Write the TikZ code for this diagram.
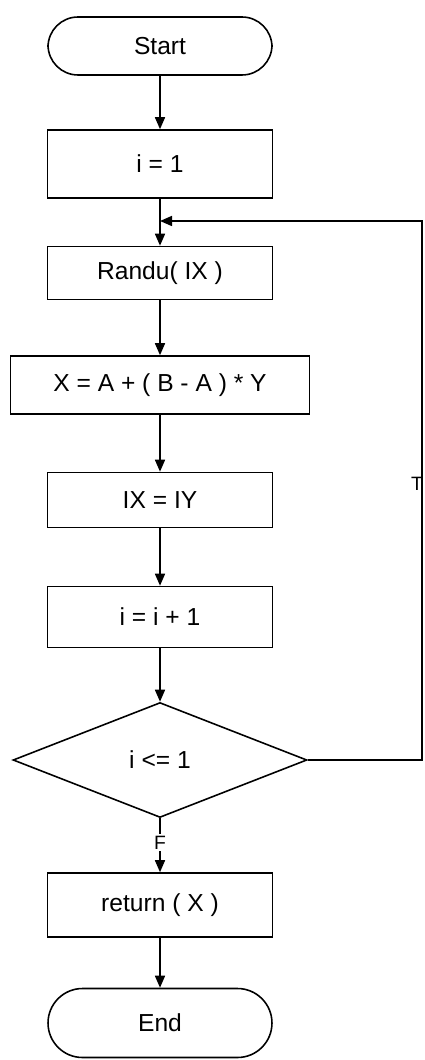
\documentclass[tikz,border=0pt]{standalone}
\usepackage{fontspec}
\setmainfont{Liberation Sans}
\usetikzlibrary{shapes.geometric,arrows.meta}

\newcommand*{\xmid}{160}
\newcommand*{\xright}{422}
\newcommand*{\yjoin}{221}

\begin{document}
\begin{tikzpicture}
[
	x=0.02cm,y=-0.02cm,
	every node/.style={font=\fontsize{14}{16}\selectfont},
	terminal/.style={draw,line width=0.9pt,rounded corners=0.6cm,minimum width=4.48cm,inner sep=0pt},
	process/.style={draw,line width=0.9pt,minimum width=4.5cm,inner sep=0pt},
	decision/.style={draw,line width=0.9pt,diamond,aspect=2.56,minimum width=5.88cm,minimum height=2.3cm,inner sep=0pt},
	flow/.style={line width=0.9pt,-{Triangle[length=0.24cm,width=0.2cm]}},
	tag/.style={font=\fontsize{11}{13}\selectfont,inner sep=1pt}
]

	\useasboundingbox (0,0) rectangle (424,1060);

	% boxes
	\node[terminal,minimum height=1.16cm] at (\xmid,46) (start) {Start};
	\node[process,minimum height=1.36cm] at (\xmid,164) (init) {i = 1};
	\node[process,minimum height=1.06cm] at (\xmid,273) (randu) {Randu( IX )};
	\node[process,minimum width=5.98cm,minimum height=1.16cm] at (\xmid,385) (calc) {X = A + ( B - A ) * Y};
	\node[process,minimum height=1.10cm] at (\xmid,500) (seed) {IX = IY};
	\node[process,minimum height=1.22cm] at (\xmid,617) (incr) {i = i + 1};
	\node[decision] at (\xmid,760) (test) {i <= 1};
	\node[process,minimum height=1.28cm] at (\xmid,905) (ret) {return ( X )};
	\node[terminal,minimum height=1.38cm,rounded corners=0.69cm] at (\xmid,1023) (stop) {End};

	\coordinate (join) at (\xmid,\yjoin);
	\coordinate (corner) at (\xright,\yjoin);

	% arrows
	\draw[flow] (start) -- (init);
	\draw[flow] (init) -- (randu);
	\draw[flow] (randu) -- (calc);
	\draw[flow] (calc) -- (seed);
	\draw[flow] (seed) -- (incr);
	\draw[flow] (incr) -- (test);
	\draw[flow] (test) -- node[tag,fill=white,pos=0.45] (no) {F} (ret);
	\draw[flow] (ret) -- (stop);

	% loop back
	\draw[flow] (test.east) -| (corner) -- (join);
	\node[tag,anchor=east] at (\xright+3,484) (yes) {T};

\end{tikzpicture}
\end{document}
